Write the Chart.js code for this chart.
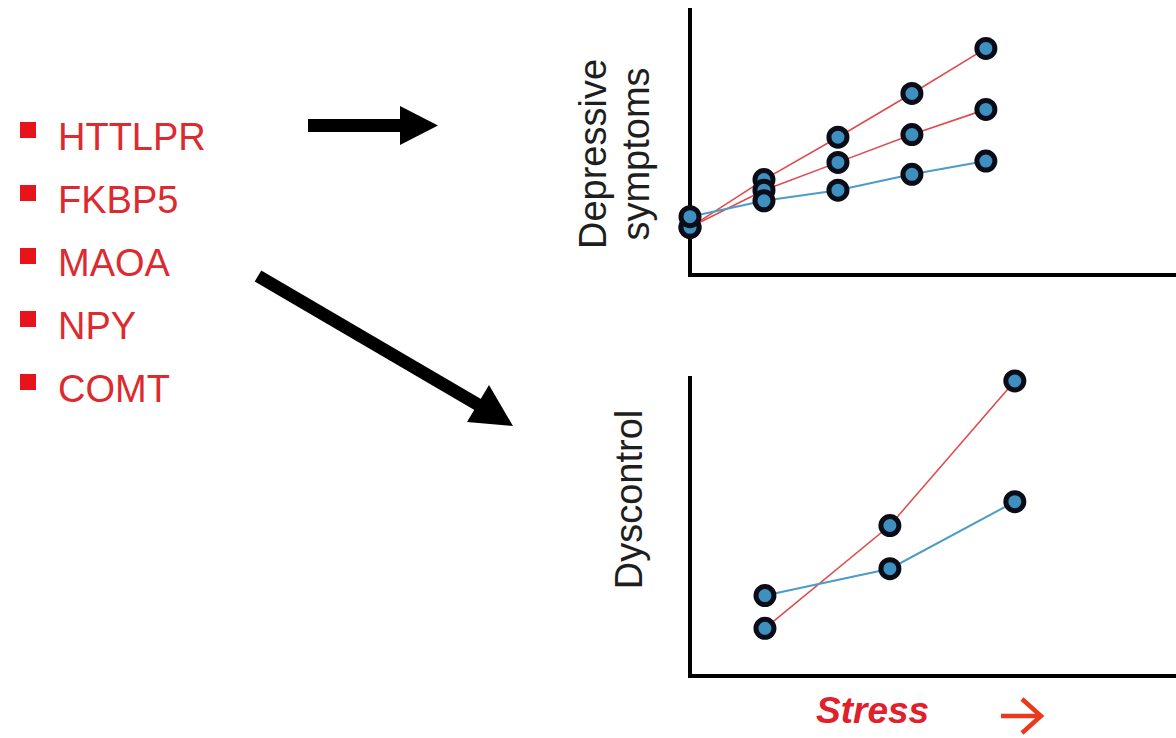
<!DOCTYPE html>
<html lang="en">
<head>
    <meta charset="UTF-8">
    <title>Gene x Stress</title>
    <script src="https://cdn.jsdelivr.net/npm/chart.js"></script>
    <style>
        body {
            margin: 0;
            width: 1176px;
            height: 738px;
            position: relative;
            background: #fff;
            font-family: "Liberation Sans", Arial, sans-serif;
            overflow: hidden;
        }
        .abs { position: absolute; }
        .gene {
            position: absolute;
            left: 58px;
            font-size: 38px;
            line-height: 1;
            color: #dc2a2f;
        }
        .bullet {
            position: absolute;
            left: 20px;
            width: 16px;
            height: 16px;
            background: #e8141c;
        }
        .ytitle {
            position: absolute;
            font-size: 38px;
            line-height: 43px;
            color: #1e1e1e;
            text-align: center;
            transform: rotate(-90deg);
            white-space: nowrap;
        }
        #stress {
            left: 816px;
            top: 692px;
            font-size: 37px;
            line-height: 1;
            font-weight: bold;
            font-style: italic;
            color: #e0202a;
        }
    </style>
</head>
<body>
    <div id="genes"></div>

    <svg class="abs" style="left:0;top:0" width="1176" height="738">
        <rect x="308" y="119" width="94" height="13" fill="#000"/>
        <polygon points="400,106 438,125.5 400,145" fill="#000"/>
        <line x1="258" y1="276" x2="482" y2="407" stroke="#000" stroke-width="13"/>
        <polygon points="467,422 513,426 489,385" fill="#000"/>
        <!-- arrow after "Stress" -->
        <line x1="1001" y1="716" x2="1040" y2="716" stroke="#ea3a1e" stroke-width="4.5"/>
        <polyline points="1022,699 1041,716 1022,733" fill="none" stroke="#ea3a1e" stroke-width="4.5"/>
    </svg>

    <div class="ytitle" style="left:485px;top:111px;width:260px;height:86px;">Depressive<br>symptoms</div>
    <div class="ytitle" style="left:499px;top:478px;width:260px;height:43px;">Dyscontrol</div>

    <canvas id="topChart" class="abs" style="left:660px;top:0px" width="516" height="300"></canvas>
    <canvas id="bottomChart" class="abs" style="left:660px;top:360px" width="516" height="330"></canvas>

    <div id="stress" class="abs">Stress</div>

    <script>
        // gene list
        const genes = ['HTTLPR', 'FKBP5', 'MAOA', 'NPY', 'COMT'];

        // top panel: depressive symptoms vs stress (arbitrary units 0-10)
        const topStress = [0, 1, 2, 3, 4];
        const topLowRisk = [2.2, 2.8, 3.2, 3.8, 4.3];
        const topHighRisk = [1.8, 3.6, 5.2, 6.85, 8.55];
        const topMidRisk = [1.8, 3.2, 4.25, 5.3, 6.25];

        // bottom panel: dyscontrol vs stress
        const bottomStress = [1, 2, 3];
        const bottomLowRisk = [2.7, 3.6, 5.85];
        const bottomHighRisk = [1.6, 5.05, 9.9];

        const genesEl = document.getElementById('genes');
        genes.forEach((g, i) => {
            const top = 118 + i * 63;
            const b = document.createElement('div');
            b.className = 'bullet';
            b.style.top = (top + 4) + 'px';
            genesEl.appendChild(b);
            const t = document.createElement('div');
            t.className = 'gene';
            t.style.top = top + 'px';
            t.textContent = g;
            genesEl.appendChild(t);
        });

        const red = '#e04a4c';
        const blue = '#4b9cc8';

        function series(xs, ys, color, width) {
            return {
                data: xs.map((x, i) => ({ x: x, y: ys[i] })),
                borderColor: color,
                borderWidth: width,
                pointRadius: 9,
                pointHoverRadius: 9,
                pointBorderWidth: 5,
                pointBorderColor: '#0a0d18',
                pointBackgroundColor: '#3e90c0',
                tension: 0,
                clip: false
            };
        }

        function axes(xRange) {
            const axis = {
                type: 'linear',
                grid: { display: false, drawTicks: false },
                ticks: { display: false },
                border: { display: true, color: '#000', width: 4 }
            };
            return {
                x: Object.assign({}, axis, xRange),
                y: Object.assign({}, axis, { min: 0, max: 10 })
            };
        }

        const common = {
            responsive: false,
            animation: false,
            plugins: { legend: { display: false }, tooltip: { enabled: false } }
        };

        new Chart(document.getElementById('topChart'), {
            type: 'line',
            data: {
                datasets: [
                    series(topStress, topLowRisk, blue, 2),
                    series(topStress, topMidRisk, red, 1.6),
                    series(topStress, topHighRisk, red, 1.6)
                ]
            },
            options: Object.assign({}, common, {
                layout: { autoPadding: false, padding: { left: 30, top: 10, right: 0, bottom: 25 } },
                scales: axes({ min: 0, max: 6.57 })
            })
        });

        new Chart(document.getElementById('bottomChart'), {
            type: 'line',
            data: {
                datasets: [
                    series(bottomStress, bottomLowRisk, blue, 2),
                    series(bottomStress, bottomHighRisk, red, 1.6)
                ]
            },
            options: Object.assign({}, common, {
                layout: { autoPadding: false, padding: { left: 30, top: 18, right: 0, bottom: 14 } },
                scales: axes({ min: 0.4, max: 4.29 })
            })
        });
    </script>
</body>
</html>
